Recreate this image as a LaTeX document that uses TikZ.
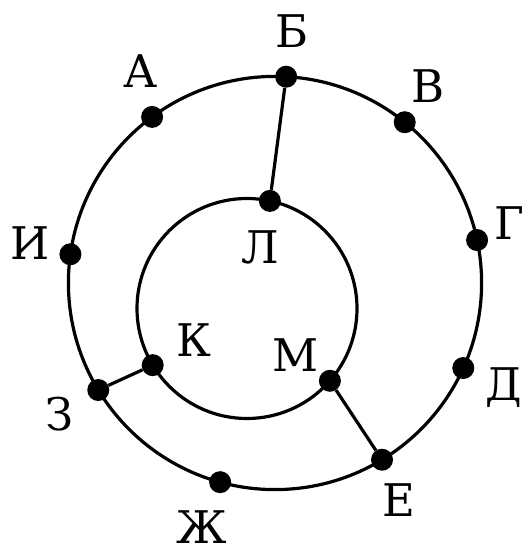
\documentclass[tikz,border=0pt]{standalone}
\usepackage{fontspec}
\newfontfamily\labelfont{DejaVu Serif}
\usetikzlibrary{positioning}

\begin{document}
\begin{tikzpicture}[x=1pt,y=1pt,
  ring/.style={line width=3.2pt},
  dot/.style={circle,fill,inner sep=0pt,minimum size=22pt},
  lbl/.style={inner sep=0pt,font=\labelfont\fontsize{45}{52}\selectfont}]
  \useasboundingbox (0,0) rectangle (523,554);
  \coordinate (O) at (275,271);
  \coordinate (I) at (247,245.5);
  \draw[ring] (O) circle (206.6);
  \draw[ring] (I) circle (110);
  % points on the outer circle
  \begin{scope}[shift={(O)}]
    \node[dot] (nA) at (126.5:206.6) {};
    \node[dot] (nB) at (86.9:206.6) {};
    \node[dot] (nV) at (51.1:206.6) {};
    \node[dot] (nG) at (12.0:206.6) {};
    \node[dot] (nD) at (-24.3:206.6) {};
    \node[dot] (nE) at (-58.8:206.6) {};
    \node[dot] (nZh) at (-105.4:206.6) {};
    \node[dot] (nZ) at (-148.8:206.6) {};
    \node[dot] (nI) at (172.0:206.6) {};
  \end{scope}
  % points on the inner circle
  \begin{scope}[shift={(I)}]
    \node[dot] (nL) at (78.0:110) {};
    \node[dot] (nK) at (-149.0:110) {};
    \node[dot] (nM) at (-41.1:110) {};
  \end{scope}
  \draw[ring] (nB) -- (nL);
  \draw[ring] (nZ) -- (nK);
  \draw[ring] (nM) -- (nE);
  % labels
  \node[lbl] (tA) at (141,482.5) {А};
  \node[lbl] (tB) at (292,523) {Б};
  \node[lbl] (tV) at (428,468) {В};
  \node[lbl] (tG) at (509,331) {Г};
  \node[lbl] (tD) at (504,166.5) {Д};
  \node[lbl] (tE) at (398.5,54) {Е};
  \node[lbl] (tZh) at (201.5,27) {Ж};
  \node[lbl] (tZ) at (59.5,140) {З};
  \node[lbl] (tI) at (30.5,311) {И};
  \node[lbl] (tK) at (194,214) {К};
  \node[lbl] (tL) at (260,307) {Л};
  \node[lbl] (tM) at (296,199) {М};
\end{tikzpicture}
\end{document}
